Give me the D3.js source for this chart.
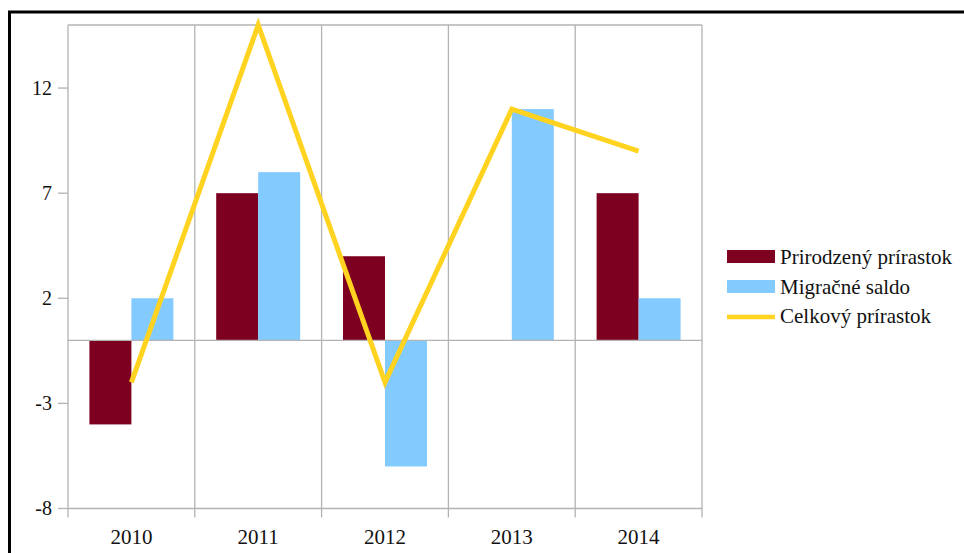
<!DOCTYPE html>
<html>
<head>
<meta charset="utf-8">
<script src="https://cdn.jsdelivr.net/npm/d3@7"></script>
<style>
body { margin: 0; background: #fff; }
text { font-family: "Liberation Serif", "Times New Roman", serif; fill: #111; }
</style>
</head>
<body>
<svg id="chart" width="964" height="553"></svg>
<script>
var years = ["2010", "2011", "2012", "2013", "2014"];
var prirodzeny = [-4, 7, 4, 0, 7];
var migracne = [2, 8, -6, 11, 2];
var celkovy = [-2, 15, -2, 11, 9];
var yTicks = [-8, -3, 2, 7, 12];
var seriesNames = ["Prirodzený prírastok", "Migračné saldo", "Celkový prírastok"];
var colors = ["#7e0021", "#83caff", "#ffd320"];

var svg = d3.select("#chart");
var plotLeft = 68, plotRight = 702, plotTop = 25, plotBottom = 508.5;

// outer frame (cut off on right and bottom)
svg.append("rect")
    .attr("x", 9.5).attr("y", 12)
    .attr("width", 1000).attr("height", 700)
    .attr("fill", "none").attr("stroke", "#000").attr("stroke-width", 3);

var x = d3.scaleBand().domain(years).range([plotLeft, plotRight]);
var y = d3.scaleLinear().domain([-8, 15]).range([plotBottom, plotTop]);
var barW = 42;

// vertical grid lines at category boundaries
var bounds = years.map(function (d) { return x(d); }).concat([plotRight]);
svg.append("g").selectAll("line")
    .data(bounds)
    .enter().append("line")
    .attr("x1", function (d) { return d; }).attr("x2", function (d) { return d; })
    .attr("y1", plotTop).attr("y2", plotBottom + 9)
    .attr("stroke", "#b3b3b3").attr("stroke-width", 1.3);

// plot frame top and bottom
svg.append("line").attr("x1", plotLeft).attr("x2", plotRight).attr("y1", plotTop).attr("y2", plotTop)
    .attr("stroke", "#b3b3b3").attr("stroke-width", 1.3);
svg.append("line").attr("x1", plotLeft).attr("x2", plotRight).attr("y1", plotBottom).attr("y2", plotBottom)
    .attr("stroke", "#b3b3b3").attr("stroke-width", 1.3);

// y ticks
var yAxis = svg.append("g");
yAxis.selectAll("line")
    .data(yTicks)
    .enter().append("line")
    .attr("x1", plotLeft - 10).attr("x2", plotLeft)
    .attr("y1", function (d) { return y(d); }).attr("y2", function (d) { return y(d); })
    .attr("stroke", "#b3b3b3").attr("stroke-width", 1.3);
yAxis.selectAll("text")
    .data(yTicks)
    .enter().append("text")
    .attr("x", plotLeft - 16).attr("y", function (d) { return y(d); })
    .attr("dy", "0.34em")
    .attr("text-anchor", "end")
    .style("font-size", "20px")
    .text(function (d) { return d; });

// x labels
svg.append("g").selectAll("text")
    .data(years)
    .enter().append("text")
    .attr("x", function (d) { return x(d) + x.bandwidth() / 2; })
    .attr("y", 544)
    .attr("text-anchor", "middle")
    .style("font-size", "21px")
    .text(function (d) { return d; });

// bars
var barData = [];
years.forEach(function (yr, i) {
    barData.push({ year: yr, v: prirodzeny[i], off: -barW, c: colors[0] });
    barData.push({ year: yr, v: migracne[i], off: 0, c: colors[1] });
});
svg.append("g").selectAll("rect")
    .data(barData)
    .enter().append("rect")
    .attr("x", function (d) { return x(d.year) + x.bandwidth() / 2 + d.off; })
    .attr("y", function (d) { return y(Math.max(0, d.v)); })
    .attr("width", barW)
    .attr("height", function (d) { return Math.abs(y(d.v) - y(0)); })
    .attr("fill", function (d) { return d.c; });

// zero line
svg.append("line").attr("x1", plotLeft).attr("x2", plotRight).attr("y1", y(0)).attr("y2", y(0))
    .attr("stroke", "#b3b3b3").attr("stroke-width", 1.3);

// total line
var line = d3.line()
    .x(function (d, i) { return x(years[i]) + x.bandwidth() / 2; })
    .y(function (d) { return y(d); });
svg.append("path")
    .datum(celkovy)
    .attr("d", line)
    .attr("fill", "none")
    .attr("stroke", colors[2])
    .attr("stroke-width", 5)
    .attr("stroke-linejoin", "miter");

// legend
var legend = svg.append("g").attr("transform", "translate(727,250)");
legend.append("rect").attr("x", 0).attr("y", 0).attr("width", 48).attr("height", 13).attr("fill", colors[0]);
legend.append("rect").attr("x", 0).attr("y", 30).attr("width", 48).attr("height", 13).attr("fill", colors[1]);
legend.append("line").attr("x1", 0).attr("x2", 48).attr("y1", 67).attr("y2", 67)
    .attr("stroke", colors[2]).attr("stroke-width", 4.5);
legend.selectAll("text")
    .data(seriesNames)
    .enter().append("text")
    .attr("x", 53)
    .attr("y", function (d, i) { return 14 + i * 29.5; })
    .style("font-size", "21px")
    .text(function (d) { return d; });
</script>
</body>
</html>
